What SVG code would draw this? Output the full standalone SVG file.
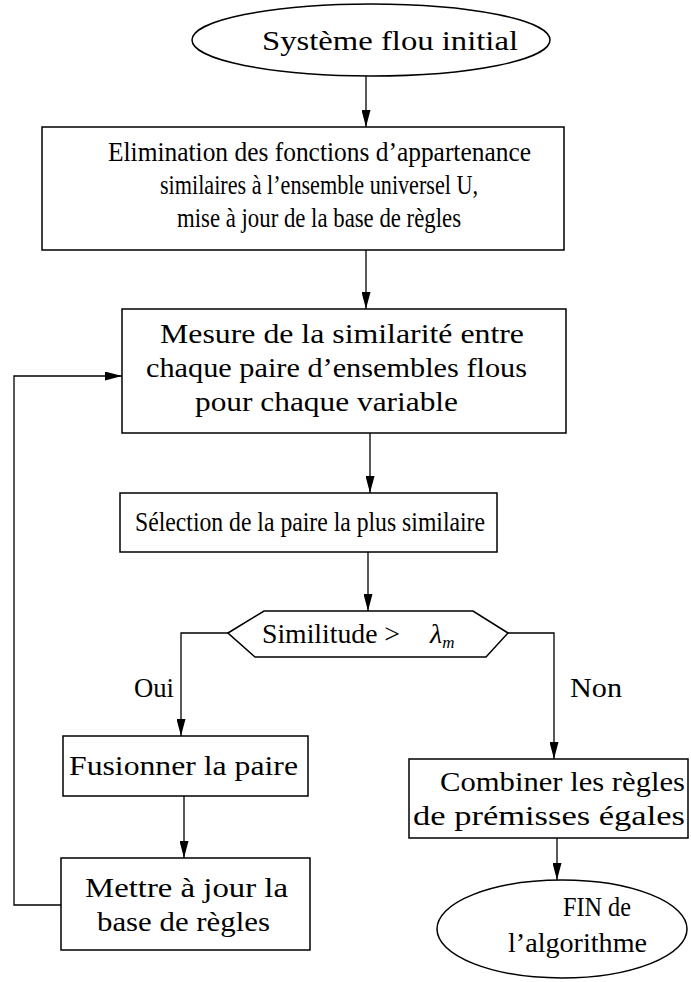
<svg xmlns="http://www.w3.org/2000/svg" width="691" height="982" viewBox="0 0 691 982">
<style>
.n{fill:#fff;stroke:#000;stroke-width:1.5}
.c{fill:none;stroke:#000;stroke-width:1.3}
text{font-family:"Liberation Serif","DejaVu Serif",serif;font-size:28px;fill:#000}
</style>
<defs>
<marker id="ah" markerUnits="userSpaceOnUse" markerWidth="17" markerHeight="9" refX="17" refY="4.5" orient="auto" viewBox="0 0 17 9">
<path d="M0,0 L17,4.5 L0,9 Z" fill="#000"/>
</marker>
</defs>
<rect width="691" height="982" fill="#fff"/>
<g id="connectors">
<line class="c" x1="366" y1="76" x2="366" y2="127" marker-end="url(#ah)"/>
<line class="c" x1="366" y1="250" x2="366" y2="309" marker-end="url(#ah)"/>
<line class="c" x1="370" y1="433" x2="370" y2="493" marker-end="url(#ah)"/>
<line class="c" x1="368" y1="552" x2="368" y2="611" marker-end="url(#ah)"/>
<polyline class="c" points="228,633 181,633 181,736" marker-end="url(#ah)"/>
<polyline class="c" points="508,633 554,633 554,759" marker-end="url(#ah)"/>
<line class="c" x1="184" y1="796" x2="184" y2="858" marker-end="url(#ah)"/>
<line class="c" x1="557" y1="838" x2="557" y2="880" marker-end="url(#ah)"/>
<polyline class="c" points="61,905 14,905 14,376 122,376" marker-end="url(#ah)"/>
<text x="134" y="697" textLength="40" lengthAdjust="spacingAndGlyphs">Oui</text>
<text x="570" y="697" textLength="52" lengthAdjust="spacingAndGlyphs">Non</text>
</g>
<g id="start">
<ellipse class="n" cx="371" cy="40" rx="179" ry="36"/>
<text x="262" y="50" font-size="29" textLength="256" lengthAdjust="spacingAndGlyphs">Système flou initial</text>
</g>
<g id="elimination">
<rect class="n" x="42" y="127" width="522" height="123"/>
<text x="108" y="161" textLength="423" lengthAdjust="spacingAndGlyphs">Elimination des fonctions d’appartenance</text>
<text x="160" y="194" textLength="318" lengthAdjust="spacingAndGlyphs">similaires à l’ensemble universel U,</text>
<text x="177" y="227" textLength="284" lengthAdjust="spacingAndGlyphs">mise à jour de la base de règles</text>
</g>
<g id="mesure">
<rect class="n" x="122" y="309" width="444" height="124"/>
<text x="160" y="343" textLength="364" lengthAdjust="spacingAndGlyphs">Mesure de la similarité entre</text>
<text x="146" y="377" textLength="381" lengthAdjust="spacingAndGlyphs">chaque paire d’ensembles flous</text>
<text x="195" y="411" textLength="263" lengthAdjust="spacingAndGlyphs">pour chaque variable</text>
</g>
<g id="selection">
<rect class="n" x="120" y="493" width="377" height="59"/>
<text x="135" y="531" textLength="350" lengthAdjust="spacingAndGlyphs">Sélection de la paire la plus similaire</text>
</g>
<g id="decision">
<polygon class="n" points="228,633 264,611 473,611 508,633 486,657 255,657"/>
<text x="262" y="643" textLength="138" lengthAdjust="spacingAndGlyphs">Similitude &gt;</text>
<text x="430" y="643" font-style="italic" font-size="27">λ<tspan font-size="17" dy="5">m</tspan></text>
</g>
<g id="fusionner">
<rect class="n" x="63" y="736" width="245" height="60"/>
<text x="69" y="775" textLength="229" lengthAdjust="spacingAndGlyphs">Fusionner la paire</text>
</g>
<g id="mettre">
<rect class="n" x="61" y="858" width="249" height="92"/>
<text x="85" y="897" textLength="203" lengthAdjust="spacingAndGlyphs">Mettre à jour la</text>
<text x="97" y="931" textLength="173" lengthAdjust="spacingAndGlyphs">base de règles</text>
</g>
<g id="combiner">
<rect class="n" x="409" y="759" width="279" height="79"/>
<text x="440" y="791" textLength="245" lengthAdjust="spacingAndGlyphs">Combiner les règles</text>
<text x="413" y="825" textLength="272" lengthAdjust="spacingAndGlyphs">de prémisses égales</text>
</g>
<g id="fin">
<ellipse class="n" cx="562" cy="929" rx="125" ry="49"/>
<text x="563" y="916" textLength="68" lengthAdjust="spacingAndGlyphs">FIN de</text>
<text x="508" y="952" textLength="139" lengthAdjust="spacingAndGlyphs">l’algorithme</text>
</g>
</svg>
